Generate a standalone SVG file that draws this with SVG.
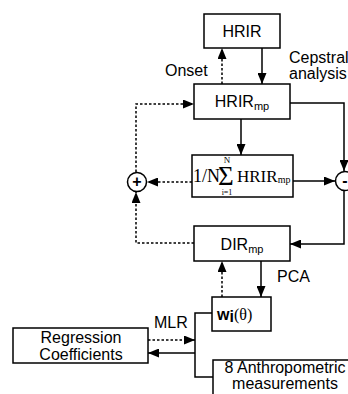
<svg xmlns="http://www.w3.org/2000/svg" width="348" height="394" viewBox="0 0 348 394">
<style>
.box{fill:#fff;stroke:#000;stroke-width:1.5}
.ln{fill:none;stroke:#000;stroke-width:1.5}
.dt{fill:none;stroke:#000;stroke-width:1.5;stroke-dasharray:2.5,2}
.t{font-family:"Liberation Sans",Arial,sans-serif;font-size:16px;fill:#000}
.s{font-family:"Liberation Serif","Times New Roman",serif;fill:#000}
</style>
<defs>
<marker id="ah" markerUnits="userSpaceOnUse" markerWidth="11" markerHeight="9" refX="11" refY="4.5" orient="auto">
<path d="M0,0 L11,4.5 L0,9 z" fill="#000"/>
</marker>
</defs>
<rect width="348" height="394" fill="#fff"/>
<g id="connectors">
<line class="ln" x1="262" y1="48" x2="262" y2="84" marker-end="url(#ah)"/>
<line class="dt" x1="222" y1="84" x2="222" y2="48" marker-end="url(#ah)"/>
<polyline class="ln" points="290,103 344,103 344,171" marker-end="url(#ah)"/>
<line class="ln" x1="241" y1="119" x2="241" y2="155" marker-end="url(#ah)"/>
<line class="ln" x1="293" y1="181" x2="335" y2="181" marker-end="url(#ah)"/>
<line class="dt" x1="192" y1="182" x2="147" y2="182" marker-end="url(#ah)"/>
<polyline class="ln" points="344,191 344,244 290,244" marker-end="url(#ah)"/>
<polyline class="dt" points="194,243 136,243 136,192" marker-end="url(#ah)"/>
<polyline class="dt" points="136,172 136,104 194,104" marker-end="url(#ah)"/>
<line class="ln" x1="261" y1="261" x2="261" y2="297" marker-end="url(#ah)"/>
<line class="dt" x1="222" y1="297" x2="222" y2="261" marker-end="url(#ah)"/>
<polyline class="ln" points="212,313 195,313 195,377 213,377"/>
<line class="dt" x1="148" y1="340" x2="195" y2="340" marker-end="url(#ah)"/>
<line class="ln" x1="195" y1="353" x2="148" y2="353" marker-end="url(#ah)"/>
</g>
<g id="hrir">
<rect class="box" x="204" y="14" width="76" height="34"/>
<text class="t" x="242" y="37" text-anchor="middle">HRIR</text>
</g>
<g id="onset-label"><text class="t" x="165" y="76">Onset</text></g>
<g id="cepstral-label">
<text class="t" x="289" y="63" font-size="15">Cepstral</text>
<text class="t" x="289" y="79" font-size="15">analysis</text>
</g>
<g id="hrirmp">
<rect class="box" x="194" y="84" width="96" height="35"/>
<text class="t" x="242" y="107" text-anchor="middle">HRIR<tspan font-size="11" dy="3">mp</tspan></text>
</g>
<g id="mean">
<rect class="box" x="192" y="155" width="101" height="42"/>
<text class="s" x="193" y="182" font-size="18">1/N</text>
<text class="s" x="218" y="185" font-size="27">Σ</text>
<text class="s" x="227" y="163" font-size="9" text-anchor="middle">N</text>
<text class="s" x="227" y="195" font-size="8" text-anchor="middle">i=1</text>
<text class="s" x="237" y="182" font-size="17">HRIR<tspan font-size="10" dy="1">mp</tspan></text>
</g>
<g id="plus">
<circle class="box" cx="137" cy="182" r="9.5"/>
<text class="t" x="137" y="187" font-size="14" font-weight="bold" text-anchor="middle">+</text>
</g>
<g id="minus">
<circle class="box" cx="345" cy="181" r="9.5"/>
<text class="t" x="345" y="186" font-size="14" font-weight="bold" text-anchor="middle">-</text>
</g>
<g id="dirmp">
<rect class="box" x="194" y="226" width="96" height="35"/>
<text class="t" x="242" y="250" text-anchor="middle">DIR<tspan font-size="11" dy="3">mp</tspan></text>
</g>
<g id="pca-label"><text class="t" x="277" y="282">PCA</text></g>
<g id="wi">
<rect class="box" x="212" y="297" width="59" height="34"/>
<text x="217" y="320"><tspan class="t" font-weight="bold">w</tspan><tspan class="t" font-weight="bold" font-size="11" dy="2">i</tspan><tspan class="s" font-size="16" dy="-2">(θ)</tspan></text>
</g>
<g id="mlr-label"><text class="t" x="154" y="328">MLR</text></g>
<g id="regression">
<rect class="box" x="13" y="328" width="135" height="35"/>
<text class="t" x="81" y="343" text-anchor="middle">Regression</text>
<text class="t" x="81" y="360" text-anchor="middle">Coefficients</text>
</g>
<g id="anthropometric">
<rect class="box" x="213" y="360" width="150" height="40"/>
<text class="t" x="285" y="373" text-anchor="middle" font-size="15.5">8 Anthropometric</text>
<text class="t" x="285" y="389" text-anchor="middle" font-size="15.5">measurements</text>
</g>
</svg>
